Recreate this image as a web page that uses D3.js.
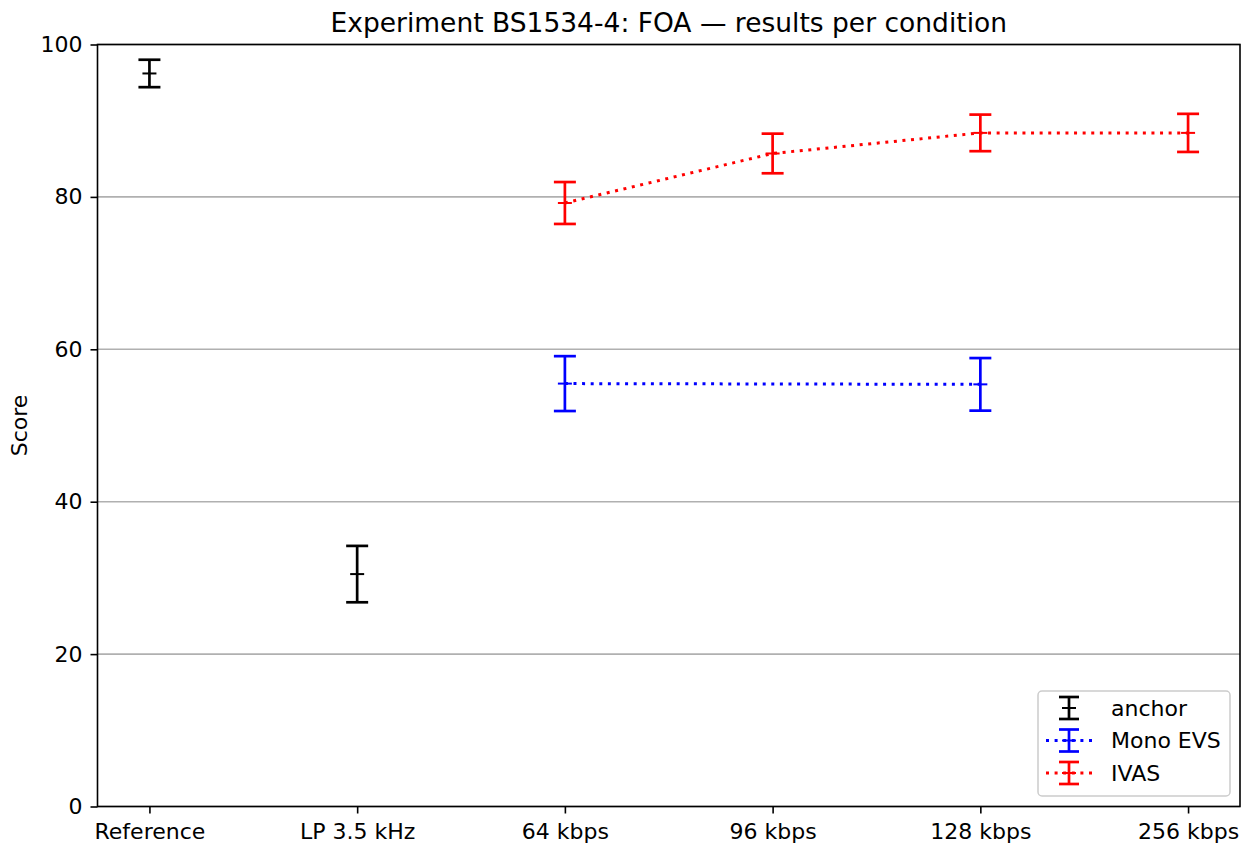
<!DOCTYPE html>
<html>
<head>
<meta charset="utf-8">
<script src="https://cdn.jsdelivr.net/npm/d3@7"></script>
<style>
  html, body { margin: 0; padding: 0; background: #fff; }
  svg { display: block; font-family: "DejaVu Sans", sans-serif; }
</style>
</head>
<body>
<svg id="chart" width="1242" height="843"></svg>
<script>
// Conditions along the x axis
const categories = ["Reference", "LP 3.5 kHz", "64 kbps", "96 kbps", "128 kbps", "256 kbps"];

// Anchors (hidden reference and low-pass anchor)
const anchorConds = ["Reference", "LP 3.5 kHz"];
const anchorMean  = [96.2, 30.5];
const anchorCI    = [1.8, 3.7];

// Mono EVS
const evsConds = ["64 kbps", "128 kbps"];
const evsMean  = [55.5, 55.4];
const evsCI    = [3.6, 3.45];

// IVAS
const ivasConds = ["64 kbps", "96 kbps", "128 kbps", "256 kbps"];
const ivasMean  = [79.2, 85.7, 88.4, 88.4];
const ivasCI    = [2.75, 2.6, 2.4, 2.5];

const yTicks = [0, 20, 40, 60, 80, 100];

const FONT = "DejaVu Sans";
const svg = d3.select("#chart");
const margin = { left: 97.5, right: 2, top: 44.5, bottom: 36.5 };
const W = 1242, H = 843;
const plotL = margin.left, plotR = W - margin.right;
const plotT = margin.top, plotB = H - margin.bottom;

const x = d3.scalePoint().domain(categories).range([plotL, plotR]).padding(0.25);
const y = d3.scaleLinear().domain([0, 100]).range([plotB, plotT]);

// Horizontal grid
svg.append("g")
  .selectAll("line")
  .data(yTicks)
  .join("line")
  .attr("x1", plotL).attr("x2", plotR)
  .attr("y1", d => y(d)).attr("y2", d => y(d))
  .attr("stroke", "#b0b0b0").attr("stroke-width", 1.6);

// Series definitions
const series = [
  { name: "anchor",   color: "#000000", conds: anchorConds, mean: anchorMean, ci: anchorCI, line: false },
  { name: "Mono EVS", color: "#0000ff", conds: evsConds,    mean: evsMean,    ci: evsCI,    line: true },
  { name: "IVAS",     color: "#ff0000", conds: ivasConds,   mean: ivasMean,   ci: ivasCI,   line: true }
];

const capW = 22, markW = 14, lw = 2.7;
const dots = "3,5.6";

series.forEach(s => {
  const pts = s.conds.map((c, i) => ({ c, m: s.mean[i], e: s.ci[i] }));
  const g = svg.append("g");
  if (s.line) {
    g.append("path")
      .datum(pts)
      .attr("d", d3.line().x(d => x(d.c)).y(d => y(d.m)))
      .attr("fill", "none")
      .attr("stroke", s.color)
      .attr("stroke-width", 3)
      .attr("stroke-dasharray", dots);
  }
  const eb = g.selectAll("g.eb").data(pts).join("g").attr("class", "eb");
  eb.append("line")
    .attr("x1", d => x(d.c)).attr("x2", d => x(d.c))
    .attr("y1", d => y(d.m - d.e)).attr("y2", d => y(d.m + d.e))
    .attr("stroke", s.color).attr("stroke-width", lw);
  [-1, 1].forEach(sign => {
    eb.append("line")
      .attr("x1", d => x(d.c) - capW / 2).attr("x2", d => x(d.c) + capW / 2)
      .attr("y1", d => y(d.m + sign * d.e)).attr("y2", d => y(d.m + sign * d.e))
      .attr("stroke", s.color).attr("stroke-width", lw);
  });
  eb.append("line")
    .attr("x1", d => x(d.c) - markW / 2).attr("x2", d => x(d.c) + markW / 2)
    .attr("y1", d => y(d.m)).attr("y2", d => y(d.m))
    .attr("stroke", s.color).attr("stroke-width", 2);
});

// Axes
const fontSize = 22;
const yAxis = svg.append("g")
  .attr("transform", `translate(${plotL},0)`)
  .call(d3.axisLeft(y).tickValues(yTicks).tickSize(7).tickPadding(8).tickFormat(d3.format("d")));
const xAxis = svg.append("g")
  .attr("transform", `translate(0,${plotB})`)
  .call(d3.axisBottom(x).tickSize(7).tickPadding(9.5));
[xAxis, yAxis].forEach(a => {
  a.attr("font-family", FONT).attr("font-size", fontSize);
  a.select(".domain").remove();
  a.selectAll(".tick line").attr("stroke", "#000").attr("stroke-width", 1.6);
  a.selectAll(".tick text").attr("fill", "#000");
});

// Frame
svg.append("rect")
  .attr("x", plotL).attr("y", plotT)
  .attr("width", plotR - plotL).attr("height", plotB - plotT)
  .attr("fill", "none").attr("stroke", "#000").attr("stroke-width", 1.6);

// Title and axis label
svg.append("text")
  .attr("x", (plotL + plotR) / 2).attr("y", 32)
  .attr("text-anchor", "middle")
  .attr("font-family", FONT)
  .style("font-size", "26.5px")
  .text("Experiment BS1534-4: FOA — results per condition");

svg.append("text")
  .attr("transform", `translate(19,${(plotT + plotB) / 2}) rotate(-90)`)
  .attr("text-anchor", "middle")
  .attr("dy", "0.35em")
  .attr("font-family", FONT)
  .style("font-size", fontSize + "px")
  .text("Score");

// Legend
const lg = svg.append("g").attr("transform", "translate(1038,691)");
lg.append("rect")
  .attr("width", 192).attr("height", 105).attr("rx", 4)
  .attr("fill", "#fff").attr("fill-opacity", 0.8)
  .attr("stroke", "#cccccc").attr("stroke-width", 1.5);
series.forEach((s, i) => {
  const cy = 17 + i * 32.5;
  const hx = 31;
  const row = lg.append("g");
  if (s.line) {
    row.append("line")
      .attr("x1", 8).attr("x2", 54).attr("y1", cy).attr("y2", cy)
      .attr("stroke", s.color).attr("stroke-width", 3).attr("stroke-dasharray", dots);
  }
  row.append("line").attr("x1", hx).attr("x2", hx).attr("y1", cy - 11).attr("y2", cy + 11)
    .attr("stroke", s.color).attr("stroke-width", lw);
  [-11, 11].forEach(o => row.append("line")
    .attr("x1", hx - 10).attr("x2", hx + 10).attr("y1", cy + o).attr("y2", cy + o)
    .attr("stroke", s.color).attr("stroke-width", lw));
  row.append("line").attr("x1", hx - 7).attr("x2", hx + 7).attr("y1", cy).attr("y2", cy)
    .attr("stroke", s.color).attr("stroke-width", 2);
  row.append("text")
    .attr("x", 73).attr("y", cy).attr("dy", "0.35em")
    .attr("font-family", FONT)
    .style("font-size", fontSize + "px")
    .text(s.name);
});
</script>
</body>
</html>
